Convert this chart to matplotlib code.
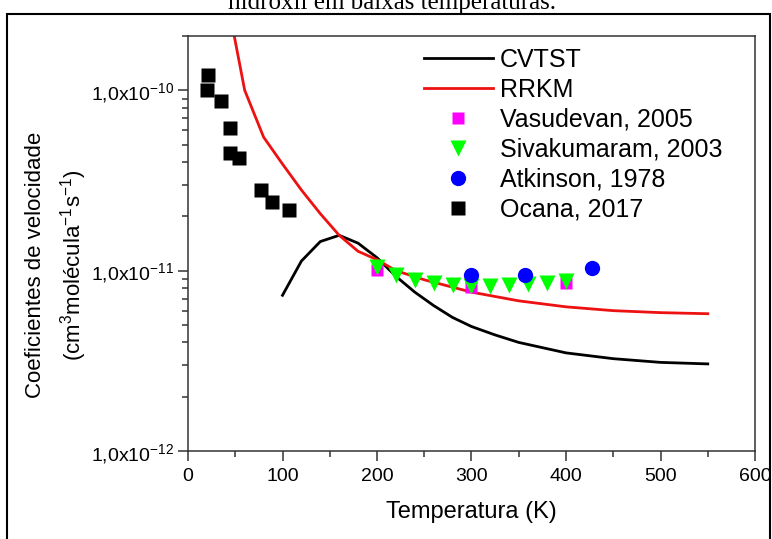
import numpy as np
import matplotlib
matplotlib.use('Agg')
import matplotlib.pyplot as plt
from matplotlib.patches import Rectangle
from matplotlib.ticker import FixedLocator, LogLocator, NullFormatter, FuncFormatter

plt.rcParams['font.family'] = ['Liberation Sans', 'DejaVu Sans']
plt.rcParams['mathtext.fontset'] = 'custom'
plt.rcParams['mathtext.rm'] = 'Liberation Sans'
plt.rcParams['mathtext.it'] = 'Liberation Sans:italic'
plt.rcParams['mathtext.default'] = 'regular'

# theory curves
T_cvtst = [100, 120, 140, 160, 180, 200, 220, 240, 260, 280, 300, 325, 350, 400, 450, 500, 550]
k_cvtst = [7.3e-12, 1.13e-11, 1.45e-11, 1.57e-11, 1.42e-11, 1.18e-11, 9.3e-12, 7.6e-12, 6.4e-12,
           5.5e-12, 4.9e-12, 4.4e-12, 4.0e-12, 3.5e-12, 3.25e-12, 3.1e-12, 3.04e-12]
T_rrkm = [40, 60, 80, 100, 120, 140, 160, 180, 200, 220, 250, 300, 350, 400, 450, 500, 550]
k_rrkm = [3.5e-10, 1.0e-10, 5.5e-11, 3.9e-11, 2.8e-11, 2.07e-11, 1.57e-11, 1.28e-11, 1.15e-11,
          1.0e-11, 8.9e-12, 7.6e-12, 6.8e-12, 6.3e-12, 6.0e-12, 5.85e-12, 5.77e-12]

# experiments
T_vasu = [200, 300, 400]
k_vasu = [1.01e-11, 8.1e-12, 8.5e-12]
T_siva = [200, 220, 240, 260, 280, 300, 320, 340, 360, 380, 400]
k_siva = [1.05e-11, 9.4e-12, 8.9e-12, 8.5e-12, 8.35e-12, 8.2e-12, 8.2e-12, 8.3e-12, 8.4e-12,
          8.5e-12, 8.8e-12]
T_atk = [299, 357, 427]
k_atk = [9.4e-12, 9.4e-12, 1.03e-11]
T_oca = [21, 20, 35, 44, 44, 54, 77, 89, 107]
k_oca = [1.22e-10, 1.0e-10, 8.7e-11, 6.2e-11, 4.5e-11, 4.2e-11, 2.8e-11, 2.4e-11, 2.16e-11]

W, H = 772, 539
fig = plt.figure(figsize=(W/100, H/100), dpi=100)
ax = fig.add_axes([188/W, 1-451/H, (755-188)/W, (451-36)/H])

ax.plot(T_cvtst, k_cvtst, color='black', lw=2, label='CVTST')
ax.plot(T_rrkm, k_rrkm, color='#ee1111', lw=2, label='RRKM')
ax.plot(T_vasu, k_vasu, 's', color='#ff00ff', ms=9, mec='none', label='Vasudevan, 2005')
ax.plot(T_siva, k_siva, 'v', color='#00ff00', ms=12, mec='none', label='Sivakumaram, 2003')
ax.plot(T_atk, k_atk, 'o', color='#0000ff', ms=11, mec='none', label='Atkinson, 1978')
ax.plot(T_oca, k_oca, 's', color='black', ms=10, mec='none', label='Ocana, 2017')

ax.set_yscale('log')
ax.set_xlim(0, 600)
ax.set_ylim(1e-12, 2e-10)

ax.xaxis.set_major_locator(FixedLocator([0, 100, 200, 300, 400, 500, 600]))
ax.xaxis.set_minor_locator(FixedLocator([50, 150, 250, 350, 450, 550]))
ax.yaxis.set_major_locator(FixedLocator([1e-12, 1e-11, 1e-10]))
ax.yaxis.set_minor_locator(LogLocator(base=10, subs=np.arange(2, 10)))
ax.yaxis.set_minor_formatter(NullFormatter())
ax.yaxis.set_major_formatter(FuncFormatter(lambda v, p: '1,0x10$^{%d}$' % round(np.log10(v))))

for s in ax.spines.values():
    s.set_linewidth(1.1)
    s.set_color('#333333')
ax.tick_params(which='major', direction='out', length=7, width=1.1, color='#333333',
               labelsize=14, pad=3, top=False, right=False)
ax.tick_params(axis='x', which='major', pad=5)
ax.tick_params(which='minor', direction='out', length=4, width=1.1, color='#333333',
               top=False, right=False)

ax.set_xlabel('Temperatura (K)', fontsize=17, labelpad=12)
fig.text(57/W, 1-265/H, 'Coeficientes de velocidade\n(cm$^{3}$molécula$^{-1}$s$^{-1}$)',
         rotation=90, ha='center', va='center', multialignment='center', fontsize=16,
         linespacing=1.55)

ax.legend(loc='upper left', bbox_to_anchor=(424/W, 1-48/H), bbox_transform=fig.transFigure,
          frameon=False, fontsize=18, handlelength=2.75, handletextpad=0.3,
          labelspacing=0.235, borderpad=0, borderaxespad=0, numpoints=1)

# caption line cut by the top of the image, and the outer frame
fig.text(392/W, 1-9.5/H, 'hidroxil em baixas temperaturas.', ha='center', va='baseline',
         fontsize=18, family='Liberation Serif')
fig.patches.append(Rectangle((7/W, -0.05), (770-7)/W, 1.05-13.5/H, transform=fig.transFigure,
                             fill=False, lw=1.5, ec='black'))

fig.savefig('out.png', dpi=100)
